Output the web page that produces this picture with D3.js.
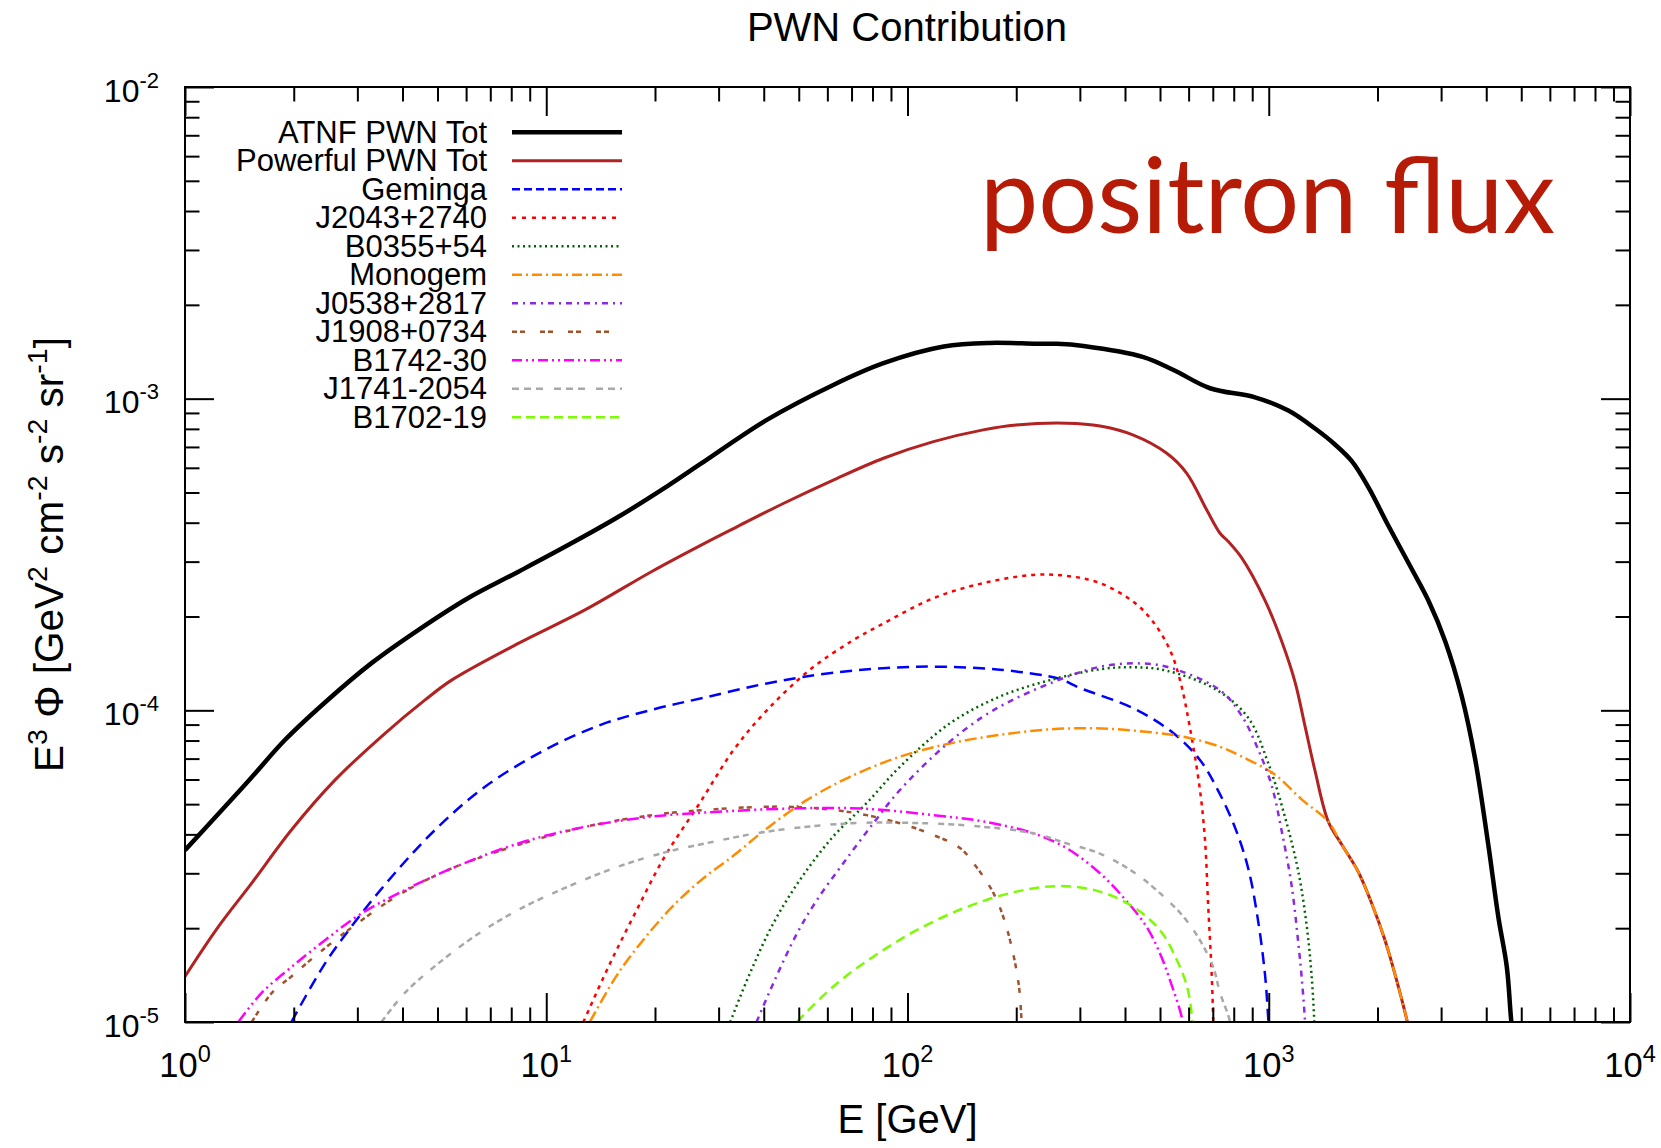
<!DOCTYPE html>
<html><head><meta charset="utf-8">
<script src="https://cdn.jsdelivr.net/npm/d3@7"></script>
<style>body{margin:0;background:#fff}</style>
</head><body>
<svg id="chart" width="1661" height="1148"></svg>
<script>
// ---- data: [E (GeV), E^3 Phi] ----
const atnfTot = [[1,3.56e-5],[1.236,4.65e-5],[1.53,6.1e-5],[1.89,8.03e-5],[2.44,1.06e-4],[3.29,1.42e-4],[4.42,1.81e-4],[6.07,2.29e-4],[8.35,2.78e-4],[11.5,3.39e-4],[15.8,4.17e-4],[21.7,5.25e-4],[26.6,6.15e-4],[40.8,8.55e-4],[62.3,1.107e-3],[85.8,1.30e-3],[126,1.47e-3],[169,1.51e-3],[228,1.50e-3],[259,1.50e-3],[307,1.476e-3],[450,1.36e-3],[545,1.236e-3],[688,1.08e-3],[916,1.01e-3],[1133,9.16e-4],[1343,8.02e-4],[1525,7.13e-4],[1698,6.30e-4],[1888,5.19e-4],[2144,3.91e-4],[2488,2.84e-4],[2766,2.25e-4],[3077,1.67e-4],[3422,1.11e-4],[3726,6.98e-5],[4053,3.70e-5],[4321,2.17e-5],[4561,1.50e-5],[4690,1.01e-5],[4800,8e-6]];
const powerfulTot = [[1,1.40e-5],[1.236,2.02e-5],[1.53,2.79e-5],[1.97,4.13e-5],[2.60,5.97e-5],[3.58,8.44e-5],[4.62,1.08e-4],[5.47,1.25e-4],[8.37,1.64e-4],[12.8,2.10e-4],[19.6,2.79e-4],[27.5,3.44e-4],[33.7,3.88e-4],[45.3,4.61e-4],[62.3,5.48e-4],[85.8,6.44e-4],[118,7.28e-4],[162,7.94e-4],[200,8.23e-4],[276,8.34e-4],[341,8.17e-4],[422,7.64e-4],[522,6.68e-4],[593,5.76e-4],[673,4.40e-4],[733,3.70e-4],[773,3.48e-4],[841,3.09e-4],[977,2.25e-4],[1086,1.665e-4],[1182,1.234e-4],[1260,8.9e-5],[1343,6.4e-5],[1462,4.39e-5],[1592,3.71e-5],[1770,3.03e-5],[1928,2.40e-5],[2098,1.83e-5],[2260,1.36e-5],[2410,1.02e-5],[2500,8.5e-6]];
const geminga = [[1.97,1.0e-5],[2.44,1.54e-5],[2.96,2.10e-5],[3.73,2.92e-5],[4.92,4.13e-5],[6.77,5.69e-5],[9.92,7.46e-5],[14.2,9.0e-5],[20,1.01e-4],[27.5,1.10e-4],[40.8,1.22e-4],[62.3,1.32e-4],[106,1.38e-4],[180,1.35e-4],[264,1.26e-4],[300,1.18e-4],[422,1.015e-4],[545,8.44e-5],[645,6.93e-5],[720,5.6e-5],[807,4.2e-5],[878,3.1e-5],[935,2.10e-5],[977,1.41e-5],[998,1.0e-5],[1010,8e-6]];
const j2043 = [[12.67,1e-5],[14.85,1.50e-5],[17.6,2.23e-5],[21.3,3.40e-5],[26.6,5.04e-5],[33.0,7.46e-5],[40.8,1.00e-4],[53.7,1.35e-4],[70.8,1.68e-4],[85.8,1.90e-4],[118,2.29e-4],[162,2.56e-4],[223,2.72e-4],[276,2.70e-4],[341,2.56e-4],[422,2.23e-4],[479,1.92e-4],[533,1.56e-4],[568,1.25e-4],[605,8.8e-5],[645,5.55e-5],[666,3.84e-5],[680,2.34e-5],[695,1.43e-5],[702,1e-5],[705,8e-6]];
const b0355 = [[32.3,1e-5],[36.6,1.43e-5],[42.5,2.07e-5],[50.4,2.86e-5],[62.3,3.94e-5],[77.1,5.04e-5],[95.3,6.59e-5],[131,9.08e-5],[180,1.107e-4],[248,1.25e-4],[341,1.355e-4],[422,1.375e-4],[522,1.34e-4],[720,1.16e-4],[878,9.45e-5],[997,6.76e-5],[1110,4.53e-5],[1208,3.03e-5],[1274,2.03e-5],[1314,1.41e-5],[1337,1e-5],[1345,8e-6]];
const monogem = [[13.2,1e-5],[15.8,1.43e-5],[19.6,1.98e-5],[23.2,2.45e-5],[27.5,2.92e-5],[33.0,3.42e-5],[40.8,4.18e-5],[52.6,5.15e-5],[69.3,6.12e-5],[95.3,7.10e-5],[131,7.83e-5],[180,8.34e-5],[248,8.69e-5],[327,8.76e-5],[422,8.61e-5],[580,8.23e-5],[733,7.64e-5],[841,7.11e-5],[1040,6.22e-5],[1233,5.18e-5],[1462,4.39e-5],[1592,3.71e-5],[1770,3.03e-5],[1928,2.40e-5],[2098,1.83e-5],[2260,1.36e-5],[2410,1.02e-5],[2500,8.5e-6]];
const j0538 = [[38.2,1e-5],[42.5,1.33e-5],[49.4,1.92e-5],[56.1,2.46e-5],[66.4,3.23e-5],[80.4,4.34e-5],[95.3,5.55e-5],[126,7.64e-5],[162,9.55e-5],[200,1.094e-4],[276,1.28e-4],[341,1.38e-4],[422,1.415e-4],[522,1.38e-4],[733,1.16e-4],[841,9.62e-5],[935,7.48e-5],[1019,5.73e-5],[1086,4.10e-5],[1157,2.74e-5],[1208,1.78e-5],[1239,1.31e-5],[1260,1e-5],[1268,8e-6]];
const j1908 = [[1.53,1e-5],[1.74,1.24e-5],[1.97,1.40e-5],[2.34,1.66e-5],[2.96,2.05e-5],[3.98,2.59e-5],[5.47,3.11e-5],[8.37,3.70e-5],[12.8,4.23e-5],[19.6,4.61e-5],[27.5,4.79e-5],[45.3,4.91e-5],[62.3,4.79e-5],[77.1,4.61e-5],[95.3,4.34e-5],[118,3.98e-5],[140,3.61e-5],[155,3.15e-5],[173,2.59e-5],[184,2.18e-5],[194,1.75e-5],[203,1.33e-5],[207,1e-5],[209,8e-6]];
const b1742 = [[1.405,1e-5],[1.63,1.24e-5],[1.97,1.50e-5],[2.44,1.83e-5],[3.08,2.23e-5],[4.06,2.65e-5],[5.47,3.11e-5],[8.37,3.74e-5],[12.8,4.23e-5],[19.6,4.56e-5],[27.5,4.70e-5],[50.4,4.85e-5],[77.1,4.83e-5],[118,4.61e-5],[162,4.40e-5],[223,4.03e-5],[276,3.61e-5],[341,3.00e-5],[402,2.46e-5],[459,2.02e-5],[500,1.66e-5],[533,1.36e-5],[578,1e-5],[585,8e-6]];
const j1741 = [[3.50,1e-5],[4.06,1.24e-5],[5.02,1.54e-5],[6.49,1.92e-5],[8.37,2.29e-5],[11.5,2.72e-5],[15.8,3.15e-5],[21.7,3.52e-5],[27.5,3.74e-5],[40.8,4.08e-5],[69.3,4.34e-5],[106,4.35e-5],[162,4.23e-5],[223,4.03e-5],[276,3.74e-5],[341,3.47e-5],[422,3.03e-5],[500,2.59e-5],[580,2.18e-5],[645,1.83e-5],[702,1.50e-5],[733,1.24e-5],[781,1e-5],[790,8e-6]];
const b1702 = [[49.4,1e-5],[62.3,1.30e-5],[80.4,1.62e-5],[106,1.97e-5],[146,2.34e-5],[200,2.62e-5],[264,2.73e-5],[341,2.62e-5],[422,2.34e-5],[500,1.97e-5],[551,1.62e-5],[594,1.30e-5],[615,1e-5],[620,8e-6]];

const seriesNames = ["ATNF PWN Tot","Powerful PWN Tot","Geminga","J2043+2740","B0355+54","Monogem","J0538+2817","J1908+0734","B1742-30","J1741-2054","B1702-19"];
const seriesData = [atnfTot, powerfulTot, geminga, j2043, b0355, monogem, j0538, j1908, b1742, j1741, b1702];
const xTickExps = [0,1,2,3,4];
const yTickExps = [-5,-4,-3,-2];

// ---- styles ----
const styles = [
  {c:"#000000", w:4.5, dash:null, ldash:null},
  {c:"#b22222", w:3, dash:null, ldash:null},
  {c:"#0000ff", w:2.5, dash:"12,7", ldash:"8,4"},
  {c:"#ff0000", w:2.5, dash:"4,5", ldash:"4,6"},
  {c:"#006400", w:2.5, dash:"2,3.5", ldash:"2,3.5"},
  {c:"#ff8c00", w:2.5, dash:"12,4,2,4", ldash:"10,4,2,4"},
  {c:"#8a2be2", w:2.5, dash:"6,5,2,5", ldash:"6,5,2,5"},
  {c:"#a0522d", w:2.5, dash:"5,3,5,12", ldash:"5,3,5,15"},
  {c:"#ff00ff", w:2.5, dash:"12,4,2,4,2,4", ldash:"10,4,2,4,2,4"},
  {c:"#a8a8a8", w:2.5, dash:"6,4,6,4,6,10", ldash:"7,5,7,5,7,11"},
  {c:"#7cfc00", w:2.5, dash:"10,6", ldash:"9,5"}
];

const FONT = "'Liberation Sans', Arial, Helvetica, sans-serif";
const svg = d3.select("#chart");
const L=185, R=1630, T=87, B=1022;
const x = d3.scaleLog().domain([1,1e4]).range([L,R]);
const y = d3.scaleLog().domain([1e-5,1e-2]).range([B,T]);

const majorX = xTickExps.map(e=>Math.pow(10,e));
const minorX = [];
xTickExps.slice(0,-1).forEach(e=>{for(let k=2;k<=9;k++) minorX.push(k*Math.pow(10,e));});
const majorY = yTickExps.map(e=>Math.pow(10,e));
const minorY = [];
yTickExps.slice(0,-1).forEach(e=>{for(let k=2;k<=9;k++) minorY.push(k*Math.pow(10,e));});

// curves
svg.append("clipPath").attr("id","clip").append("rect").attr("x",L).attr("y",T).attr("width",R-L).attr("height",B-T);
const line = d3.line().x(d=>x(d[0])).y(d=>y(d[1])).curve(d3.curveCatmullRom.alpha(0.5));
const cg = svg.append("g").attr("clip-path","url(#clip)");
seriesData.forEach((d,i)=>{
  const s = styles[i];
  cg.append("path").attr("d", line(d)).attr("fill","none").attr("stroke",s.c)
    .attr("stroke-width",s.w).attr("stroke-dasharray",s.dash).attr("stroke-linejoin","round");
});

// axes (inward ticks, mirrored)
function ax(gen, tv, size, tr){
  const g = svg.append("g").attr("transform",tr).call(gen.tickValues(tv).tickSize(size).tickFormat(""));
  g.select(".domain").remove();
  g.selectAll(".tick line").attr("stroke","#000").attr("stroke-width",2);
  return g;
}
ax(d3.axisBottom(x), majorX, -29, `translate(0,${B})`);
ax(d3.axisBottom(x), minorX, -14.5, `translate(0,${B})`);
ax(d3.axisTop(x), majorX, -29, `translate(0,${T})`);
ax(d3.axisTop(x), minorX, -14.5, `translate(0,${T})`);
ax(d3.axisLeft(y), majorY, -29, `translate(${L},0)`);
ax(d3.axisLeft(y), minorY, -14.5, `translate(${L},0)`);
ax(d3.axisRight(y), majorY, -29, `translate(${R},0)`);
ax(d3.axisRight(y), minorY, -14.5, `translate(${R},0)`);
svg.append("rect").attr("x",L).attr("y",T).attr("width",R-L).attr("height",B-T)
  .attr("fill","none").attr("stroke","#000").attr("stroke-width",2);

// tick labels
xTickExps.forEach(e=>{
  const t = svg.append("text").attr("x",x(Math.pow(10,e))).attr("y",1077)
    .attr("text-anchor","middle").attr("font-family",FONT).attr("font-size",34.5);
  t.append("tspan").text("10");
  t.append("tspan").attr("dy",-15).attr("font-size",23.5).text(e);
});
yTickExps.forEach(e=>{
  const t = svg.append("text").attr("x",159).attr("y",y(Math.pow(10,e))+14.5)
    .attr("text-anchor","end").attr("font-family",FONT).attr("font-size",32);
  t.append("tspan").text("10");
  t.append("tspan").attr("dy",-14).attr("font-size",22).text(e);
});

// title, axis labels
svg.append("text").attr("x",907).attr("y",41).attr("text-anchor","middle")
  .attr("font-family",FONT).attr("font-size",40).text("PWN Contribution");
svg.append("text").attr("x",(L+R)/2).attr("y",1133).attr("text-anchor","middle")
  .attr("font-family",FONT).attr("font-size",40).text("E [GeV]");
const yl = svg.append("text").attr("transform",`translate(63,${(T+B)/2}) rotate(-90)`)
  .attr("text-anchor","middle").attr("font-family",FONT).attr("font-size",40.5);
[["E",0],["3",1],[" \u03A6 [GeV",0],["2",1],[" cm",0],["-2",1],[" s",0],["-2",1],[" sr",0],["-1",1],["]",0]].forEach(([txt,sup],i,arr)=>{
  const prevSup = i>0 ? arr[i-1][1] : 0;
  const dy = sup && !prevSup ? -16 : (!sup && prevSup ? 16 : 0);
  yl.append("tspan").attr("dy",dy).attr("font-size",sup?28.5:40.5).text(txt);
});

// legend
seriesNames.forEach((n,i)=>{
  const yy = 132.3 + i*28.5;
  svg.append("text").attr("x",487).attr("y",yy+10.5).attr("text-anchor","end")
    .attr("font-family",FONT).attr("font-size",31).text(n);
  const s = styles[i];
  svg.append("line").attr("x1",512).attr("x2",622).attr("y1",yy).attr("y2",yy)
    .attr("stroke",s.c).attr("stroke-width",s.w).attr("stroke-dasharray",s.ldash);
});

// annotation
svg.append("text").attr("x",980).attr("y",233).attr("font-family","Lato, 'Open Sans', sans-serif")
  .attr("font-size",104).attr("fill","#b51b06").attr("textLength",575).attr("lengthAdjust","spacingAndGlyphs")
  .text("positron flux");
</script>
</body></html>
